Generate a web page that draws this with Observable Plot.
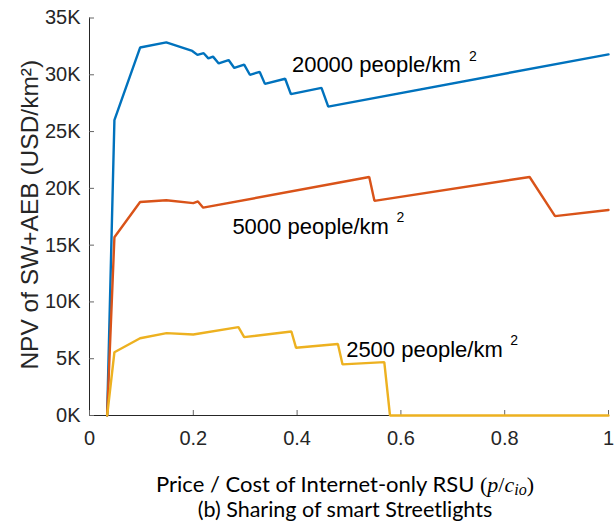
<!DOCTYPE html>
<html><head><meta charset="utf-8">
<script src="https://cdn.jsdelivr.net/npm/d3@7"></script>
<script src="https://cdn.jsdelivr.net/npm/@observablehq/plot@0.6"></script>
<style>
body{margin:0;background:#fff;}
#chart{width:614px;height:455px;}
.xl{font-family:Lato,"Open Sans",sans-serif;color:#000;text-align:center;width:614px;padding-left:76px;box-sizing:border-box;white-space:nowrap;}
.xl1{font-size:22px;line-height:23px;height:23px;margin-top:17px;}
.xl2{font-size:21.5px;line-height:23px;height:23px;margin-top:3px;}
.s{font-family:"Liberation Serif","DejaVu Serif",serif;font-size:22px;}
.m{font-family:"Liberation Serif","DejaVu Serif",serif;font-style:italic;font-size:22px;}
.m sub{font-size:16px;vertical-align:-3px;line-height:0;}
</style></head><body>
<div id="chart"></div>
<div class="xl xl1">Price / Cost of Internet-only RSU <span class="s">(</span><span class="m">p</span><span class="s">/</span><span class="m">c<sub>io</sub></span><span class="s">)</span></div>
<div class="xl xl2">(b) Sharing of smart Streetlights</div>
<script>
const xTicks = [0, 0.2, 0.4, 0.6, 0.8, 1];
const yTicks = [0, 5000, 10000, 15000, 20000, 25000, 30000, 35000];
const seriesNames = ["20000 people/km", "5000 people/km", "2500 people/km"];
const seriesColors = ["#0072BD", "#D95319", "#EDB120"];

const x20000 = [0.034, 0.048, 0.0975, 0.148, 0.198, 0.208, 0.22, 0.229, 0.238, 0.249, 0.268, 0.279, 0.298, 0.309, 0.328, 0.338, 0.377, 0.388, 0.447, 0.46, 1.0];
const npv20000 = [0, 26000, 32400, 32850, 32100, 31750, 31900, 31450, 31600, 31000, 31300, 30600, 30900, 30000, 30250, 29200, 29650, 28300, 28850, 27200, 31800];

const x5000 = [0.034, 0.048, 0.0975, 0.148, 0.2, 0.209, 0.219, 0.539, 0.549, 0.848, 0.897, 1.0];
const npv5000 = [0, 15700, 18800, 18950, 18700, 18850, 18300, 21000, 18900, 21000, 17550, 18100];

const x2500 = [0.034, 0.048, 0.0975, 0.1485, 0.2, 0.287, 0.298, 0.389, 0.398, 0.4786, 0.4876, 0.568, 0.579, 1.0];
const npv2500 = [0, 5570, 6800, 7250, 7130, 7780, 6900, 7400, 5960, 6300, 4500, 4700, 0, 0];

const labelX = [0.39, 0.2753, 0.4945];
const labelY = [30900, 16640, 5770];

const seriesX = [x20000, x5000, x2500];
const seriesY = [npv20000, npv5000, npv2500];
const lineData = seriesNames.flatMap((name, i) => seriesX[i].map((x, j) => ({name, x, y: seriesY[i][j]})));
const labels = seriesNames.map((name, i) => ({name, x: labelX[i], y: labelY[i]}));

const axisColor = "#262626";
const font = "'Liberation Sans', Arial, Helvetica, sans-serif";

const chart = Plot.plot({
  width: 614,
  height: 455,
  marginLeft: 89,
  marginRight: 6,
  marginTop: 17.5,
  marginBottom: 40,
  style: {fontFamily: font, background: "#fff", color: axisColor, overflow: "visible"},
  x: {domain: [0, 1]},
  y: {domain: [0, 35000]},
  color: {domain: seriesNames, range: seriesColors},
  marks: [
    Plot.ruleX([0], {stroke: axisColor, strokeWidth: 1}),
    Plot.ruleY([0], {stroke: axisColor, strokeWidth: 1}),
    Plot.axisY({ticks: yTicks, tickSize: -5, tickPadding: 14, tickFormat: d => d / 1000 + "K", fontSize: 20, label: null, stroke: "#666", fill: axisColor}),
    Plot.axisX({ticks: xTicks, tickSize: -5, tickPadding: 20, tickFormat: d => String(d), fontSize: 20, label: null, stroke: "#666", fill: axisColor}),
    Plot.text(["NPV of SW+AEB (USD/km²)"], {frameAnchor: "left", textAnchor: "middle", dx: -59, dy: -2, rotate: -90, fontSize: 24.5, fill: axisColor, text: d => d}),
    Plot.line(lineData, {x: "x", y: "y", z: "name", stroke: "name", strokeWidth: 2.4, strokeLinejoin: "miter"}),
    Plot.text(labels, {x: "x", y: "y", text: "name", textAnchor: "start", fontSize: 22, fill: "#000"}),
    Plot.text(labels, {x: "x", y: "y", text: d => "2", textAnchor: "start", fontSize: 14, fill: "#000", filter: (d, i) => i === 0, dx: 177, dy: -8}),
    Plot.text(labels, {x: "x", y: "y", text: d => "2", textAnchor: "start", fontSize: 14, fill: "#000", filter: (d, i) => i > 0, dx: 164, dy: -9})
  ]
});
document.getElementById("chart").appendChild(chart);
</script>
</body></html>
